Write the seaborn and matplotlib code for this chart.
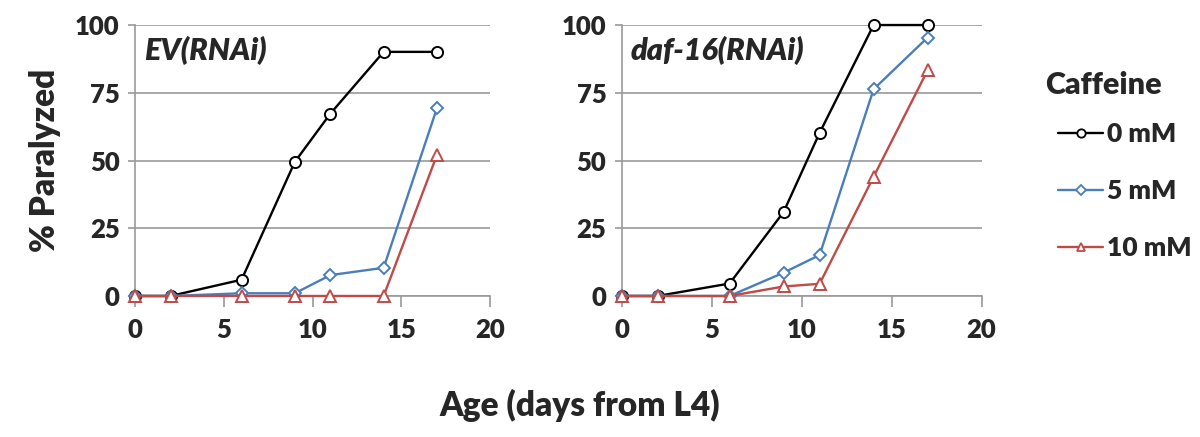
import matplotlib
matplotlib.use("Agg")
import matplotlib.pyplot as plt
import seaborn as sns
import pandas as pd
from matplotlib.lines import Line2D

days = [0, 2, 6, 9, 11, 14, 17]
concs = ["0 mM", "5 mM", "10 mM"]
ev_0 = [0, 0, 6, 49.5, 67.3, 90.1, 90.1]
ev_5 = [0, 0, 1, 1, 7.7, 10.4, 69.3]
ev_10 = [0, 0, 0, 0, 0, 0, 52]
daf_0 = [0, 0, 4.6, 31, 60.2, 100, 100]
daf_5 = [0, 0, 0, 8.6, 15.1, 76.3, 95.4]
daf_10 = [0, 0, 0, 3.5, 4.5, 44, 83.3]
panel_titles = ["EV(RNAi)", "daf-16(RNAi)"]

colors = ["#000000", "#4A7EBB", "#BE4B48"]
markers = ["o", "D", "^"]
msizes = [8, 6.3, 8]

sns.set_theme(style="white")
plt.rcParams["font.family"] = ["Lato", "DejaVu Sans"]
W = "heavy"

def make_df(series):
    rows = []
    for c, vals in zip(concs, series):
        for d, v in zip(days, vals):
            rows.append({"day": d, "pct": v, "conc": c})
    return pd.DataFrame(rows)

fig = plt.figure(figsize=(12, 4.37), dpi=100)
ax1 = fig.add_axes([0.1125, 0.3227, 0.296, 0.62])
ax2 = fig.add_axes([0.518, 0.3227, 0.300, 0.62])

for ax, series, title in [(ax1, [ev_0, ev_5, ev_10], panel_titles[0]),
                          (ax2, [daf_0, daf_5, daf_10], panel_titles[1])]:
    df = make_df(series)
    sns.lineplot(data=df, x="day", y="pct", hue="conc", style="conc",
                 hue_order=concs, style_order=concs, palette=colors,
                 markers=markers, dashes=False, ax=ax, legend=False,
                 linewidth=1.7, clip_on=False, zorder=3)
    for line, ms, col in zip(ax.lines, msizes, colors):
        line.set_markerfacecolor("white")
        line.set_markeredgecolor(col)
        line.set_markeredgewidth(1.4)
        line.set_markersize(ms)
    ax.set_xlim(0, 20)
    ax.set_ylim(0, 100)
    ax.set_xticks([0, 5, 10, 15, 20])
    ax.set_yticks([0, 25, 50, 75, 100])
    ax.yaxis.grid(True, color="#9a9a9a", linewidth=1.2)
    ax.xaxis.grid(False)
    for s in ["top", "right"]:
        ax.spines[s].set_visible(False)
    for s in ["left", "bottom"]:
        ax.spines[s].set_color("#9a9a9a")
        ax.spines[s].set_linewidth(1.2)
    ax.tick_params(axis="x", bottom=True, direction="out", length=8,
                   width=1.2, color="#9a9a9a", labelsize=18.5, pad=8)
    ax.tick_params(axis="y", left=True, direction="out", length=5,
                   width=1.2, color="#9a9a9a", labelsize=18.5, pad=6)
    for lab in ax.get_xticklabels() + ax.get_yticklabels():
        lab.set_fontweight(W)
    ax.set_xlabel("")
    ax.set_ylabel("")
    ax.text(0.025, 0.96, title, transform=ax.transAxes, fontsize=22,
            fontweight=W, fontstyle="italic", va="top", ha="left")

ax1.set_ylabel("% Paralyzed", fontsize=24, fontweight=W, labelpad=10)
fig.text(0.483, 0.073, "Age (days from L4)", fontsize=24, fontweight=W,
         ha="center", va="center")

handles = [Line2D([], [], color=c, marker=m, markersize=ms * 0.75,
                  markerfacecolor="white", markeredgecolor=c,
                  markeredgewidth=1.3, linewidth=1.7)
           for c, m, ms in zip(colors, markers, msizes)]
leg = fig.legend(handles, concs, loc="center left",
                 bbox_to_anchor=(0.882, 0.563), frameon=False,
                 fontsize=19, borderpad=0, borderaxespad=0,
                 handlelength=1.7, handletextpad=0.15, labelspacing=1.25)
for t in leg.get_texts():
    t.set_fontweight(W)
fig.text(0.871, 0.805, "Caffeine", fontsize=22, fontweight=W,
         ha="left", va="center")

fig.savefig("out.png", dpi=100)
